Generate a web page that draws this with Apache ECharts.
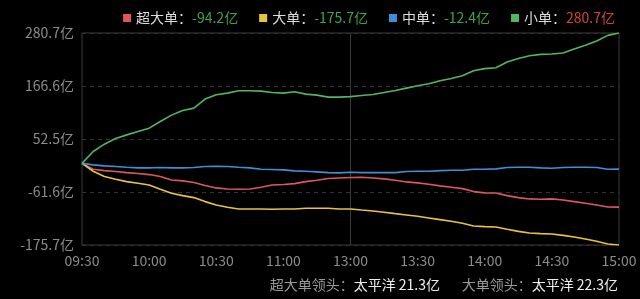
<!DOCTYPE html>
<html>
<head>
<meta charset="utf-8">
<script src="https://cdn.jsdelivr.net/npm/echarts@6/dist/echarts.min.js"></script>
<style>
html,body{margin:0;padding:0;background:#000;}
#c{width:640px;height:299px;}
</style>
</head>
<body>
<div id="c"></div>
<script>
const times = ['09:30','09:35','09:40','09:45','09:50','09:55','10:00','10:05','10:10','10:15','10:20','10:25',
  '10:30','10:35','10:40','10:45','10:50','10:55','11:00','11:05','11:10','11:15','11:20','11:25',
  '13:00','13:05','13:10','13:15','13:20','13:25','13:30','13:35','13:40','13:45','13:50','13:55',
  '14:00','14:05','14:10','14:15','14:20','14:25','14:30','14:35','14:40','14:45','14:50','14:55','15:00'];
const seriesNames = ['超大单','大单','中单','小单'];
const superLarge = [0,-12.6,-15.5,-17.6,-19.8,-21.9,-24.1,-28.4,-35.6,-37.7,-41.3,-47.8,-52.8,
  -55.0,-55.7,-55.0,-51.4,-46.4,-45.6,-43.5,-39.2,-36.3,-32.7,-31.3,-30.5,
  -29.8,-31.3,-33.4,-36.3,-39.9,-42.0,-44.9,-48.5,-51.4,-54.3,-60.7,-63.5,
  -63.6,-69.4,-73.7,-76.5,-77.3,-76.5,-78.7,-82.3,-85.9,-89.5,-93.8,-94.2];
const large = [0,-16.9,-28.4,-34.1,-39.2,-42.8,-46.4,-55.7,-64.3,-69.4,-73.7,-82.3,-89.5,
  -94.5,-98.1,-98.1,-98.1,-98.8,-98.1,-98.1,-96.7,-96.7,-96.7,-98.1,-98.1,
  -100.3,-102.4,-105.3,-108.2,-111.0,-113.9,-117.5,-121.1,-124.7,-129.0,-134.8,-136.2,
  -136.9,-141.9,-146.3,-149.8,-151.3,-152.0,-154.9,-158.5,-162.8,-167.8,-173.6,-175.7];
const medium = [0,-3.2,-5.4,-6.8,-8.3,-9.7,-9.7,-9.0,-9.7,-9.7,-9.0,-6.8,-6.1,
  -6.8,-8.3,-9.7,-12.6,-13.3,-14.0,-16.2,-16.9,-18.3,-19.8,-20.5,-19.0,
  -19.8,-19.8,-19.8,-19.8,-17.6,-16.9,-16.9,-15.5,-14.7,-14.7,-12.6,-12.6,
  -11.9,-9.0,-8.3,-8.3,-9.7,-10.4,-9.0,-8.3,-8.3,-9.0,-12.6,-12.4];
const small = [0,25.5,41.3,53.5,61.4,68.6,75.8,90.2,103.9,113.9,118.9,138.4,147.7,
  151.3,156.3,156.3,155.6,152.7,151.3,154.2,149.1,147.0,142.7,142.7,143.8,
  146.3,148.4,152.7,157.0,162.0,167.0,171.3,177.9,182.9,188.7,199.4,204.0,
  205.9,218.1,226.0,231.8,234.7,235.4,237.5,246.2,254.1,263.4,275.6,280.7];
const yMin = -175.7, yMax = 280.7, yStep = 114.1;
const footLabels = ['超大单领头：','大单领头：'];
const footValues = ['太平洋 21.3亿','太平洋 22.3亿'];

const colors = ['#e05560','#e8c33c','#3e8fd8','#52b560'];
const allData = [superLarge, large, medium, small];
const finals = {};
seriesNames.forEach((n,i)=>{ finals[n] = allData[i][allData[i].length-1]; });

const chart = echarts.init(document.getElementById('c'));
const font = '"Noto Sans CJK SC","Noto Sans",sans-serif';
chart.setOption({
  backgroundColor:'#000',
  animation:false,
  textStyle:{fontFamily:font},
  legend:{
    right:20, top:6, itemWidth:8, itemHeight:8, itemGap:21, icon:'rect',
    data:seriesNames,
    formatter:function(name){
      const v = finals[name];
      return '{n|'+name+'：}{'+(v<0?'neg':'pos')+'|'+v.toFixed(1)+'亿}';
    },
    textStyle:{color:'#ddd', fontSize:14, fontFamily:font,
      rich:{
        n:{color:'#ddd', fontSize:14, fontFamily:font},
        neg:{color:'#3fa34d', fontSize:14, fontFamily:font},
        pos:{color:'#d0443f', fontSize:14, fontFamily:font}
      }}
  },
  grid:{left:82, right:21, top:33, bottom:54, show:true, borderColor:'#3a3a3a', borderWidth:1},
  xAxis:{
    type:'category', data:times, boundaryGap:false,
    axisLine:{show:false}, axisTick:{show:false},
    axisLabel:{color:'#8c8c8c', fontSize:14, interval:5, margin:9, fontFamily:font},
    splitLine:{show:true, interval:function(i){return i===24;}, lineStyle:{color:'#3a3a3a', type:'solid'}}
  },
  yAxis:{
    type:'value', min:yMin, max:yMax, interval:yStep,
    axisLine:{show:false}, axisTick:{show:false},
    axisLabel:{color:'#8c8c8c', fontSize:14, margin:8, fontFamily:font,
      formatter:function(v){return (Math.round(v*10)/10).toFixed(1)+'亿';}},
    splitLine:{show:true, lineStyle:{color:'#333', type:[4,4]}}
  },
  series: seriesNames.map((n,i)=>({
    name:n, type:'line', data:allData[i], showSymbol:false, smooth:false,
    itemStyle:{color:colors[i]},
    lineStyle:{color:colors[i], width:1.6}
  })),
  graphic:[{
    type:'text', right:200, top:278,
    style:{
      text:'{l|'+footLabels[0]+'}{v|'+footValues[0]+'}',
      font:'14px '+font,
      rich:{
        l:{fill:'#9a9a9a', fontSize:14, fontFamily:font},
        v:{fill:'#eeeeee', fontSize:14, fontFamily:font}
      }
    }
  },{
    type:'text', right:22, top:278,
    style:{
      text:'{l|'+footLabels[1]+'}{v|'+footValues[1]+'}',
      font:'14px '+font,
      rich:{
        l:{fill:'#9a9a9a', fontSize:14, fontFamily:font},
        v:{fill:'#eeeeee', fontSize:14, fontFamily:font}
      }
    }
  }]
});
</script>
</body>
</html>
